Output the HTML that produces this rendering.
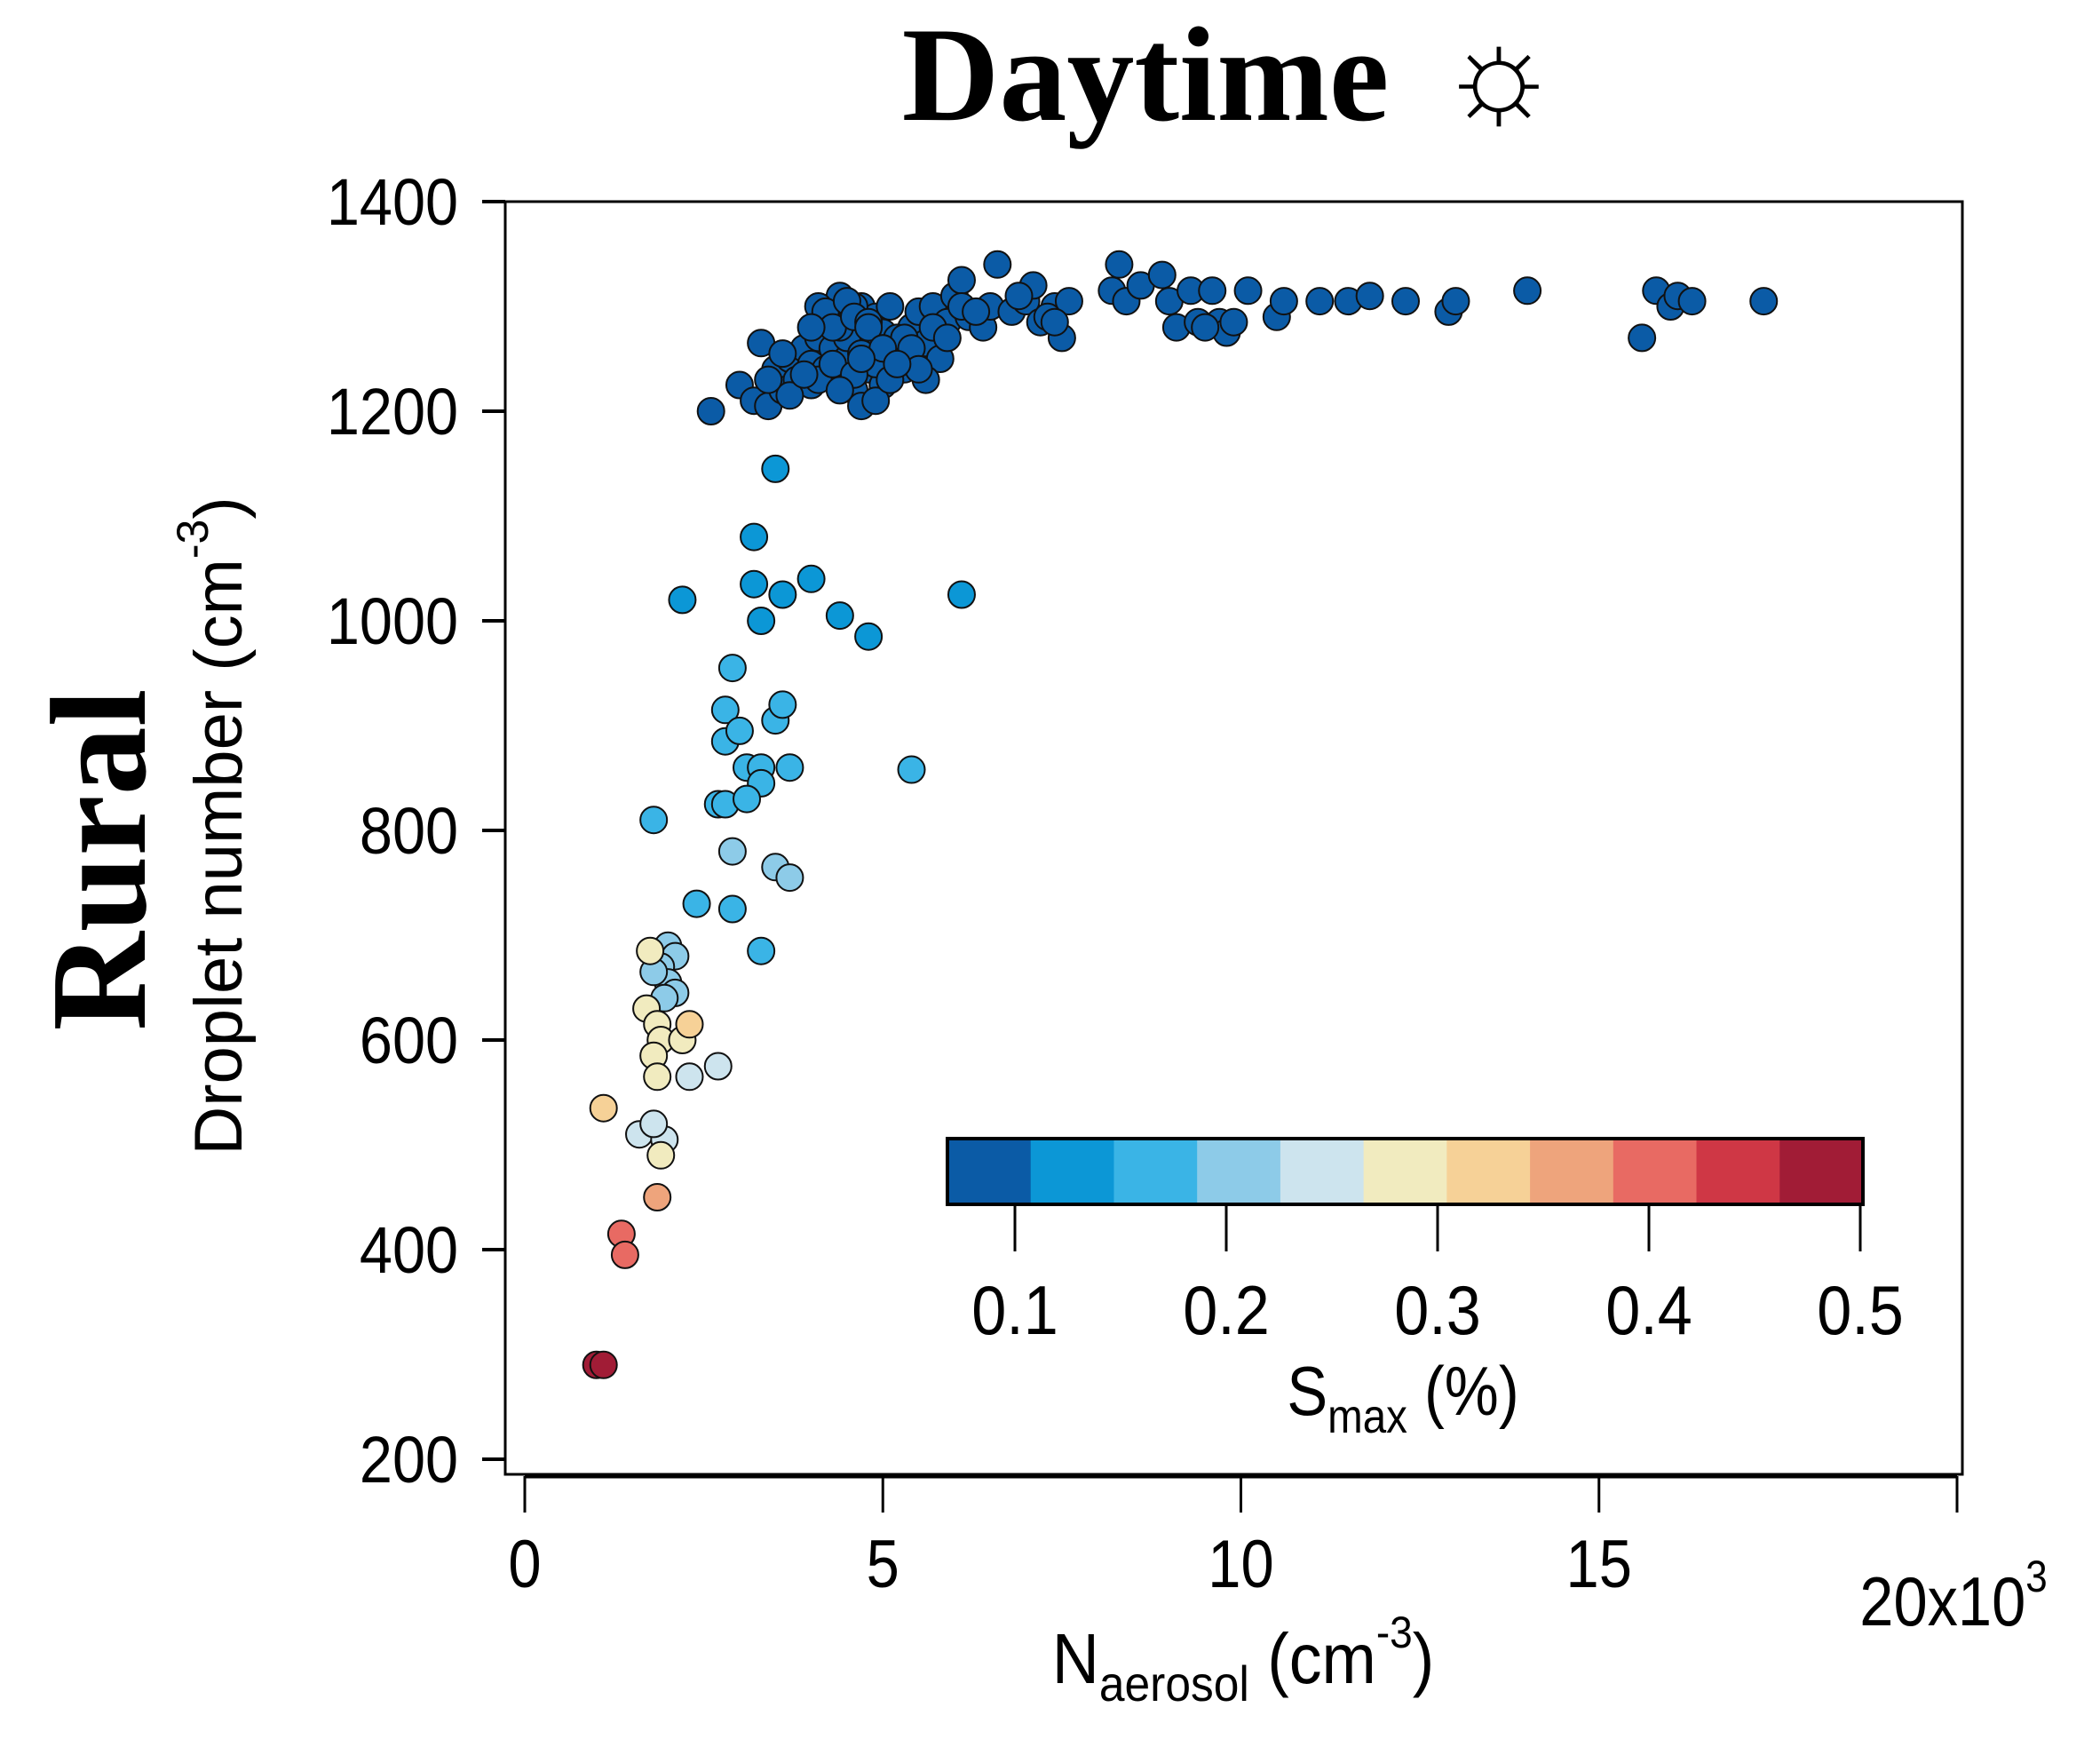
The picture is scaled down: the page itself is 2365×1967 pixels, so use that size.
<!DOCTYPE html>
<html><head><meta charset="utf-8"><style>
html,body{margin:0;padding:0;background:#fff}
svg{display:block}
text{font-family:"Liberation Sans",sans-serif;fill:#000}
.serif{font-family:"Liberation Serif",serif;font-weight:bold}
</style></head><body>
<svg id="chart" width="2365" height="1967" viewBox="0 0 2365 1967">
<text class="serif" x="1290" y="135" font-size="152" text-anchor="middle">Daytime</text>
<text x="1688" y="132" font-size="150" font-weight="bold" text-anchor="middle" font-family="DejaVu Sans">☼</text>
<text class="serif" transform="translate(163,968) rotate(-90)" font-size="154" text-anchor="middle">Rural</text>
<text transform="translate(272,930) rotate(-90)" font-size="76" text-anchor="middle">Droplet number (cm<tspan dy="-38" font-size="50">-3</tspan><tspan dy="38">)</tspan></text>
<rect x="569" y="227" width="1641" height="1433" fill="none" stroke="#000" stroke-width="3"/>
<g id="yaxis"></g>
<g id="xaxis"></g>
<g id="points"></g>
<g id="cbar"></g>
<text transform="translate(1400,1895) scale(0.92,1)" font-size="80" text-anchor="middle">N<tspan dy="20" font-size="56">aerosol</tspan><tspan dy="-20"> (cm</tspan><tspan dy="-40" font-size="50">-3</tspan><tspan dy="40">)</tspan></text>
<text transform="translate(2200,1830) scale(0.88,1)" font-size="78" text-anchor="middle">20x10<tspan dy="-38" font-size="50">3</tspan></text>
<text transform="translate(1580,1593) scale(0.88,1)" font-size="78" text-anchor="middle">S<tspan dy="20" font-size="54">max</tspan><tspan dy="-20"> (%)</tspan></text>
</svg>
<script>
const yTicks=[200,400,600,800,1000,1200,1400];
const xTicks=[0,5,10,15];
const cbTicks=[0.1,0.2,0.3,0.4,0.5];
const cbColors=["#0b5ba6","#0c97d6","#3ab4e6","#8dcbe8","#cde4ee","#f1ebbf","#f6d197","#eea47c","#e86a63","#cf3745","#a11c36"];
const ptX=[3.3,3.0,3.2,3.4,3.5,3.6,3.7,3.8,3.9,4.0,4.1,4.2,4.3,4.4,4.5,4.3,4.4,4.5,4.6,4.6,4.7,4.7,4.8,4.8,4.9,5.0,5.0,5.1,5.2,5.3,5.4,5.5,5.6,5.7,5.8,5.9,6.0,6.1,6.2,6.4,6.5,6.6,6.8,7.0,7.1,7.2,7.4,7.5,7.6,8.2,8.3,8.4,8.6,8.9,9.0,9.1,9.3,9.4,9.6,9.7,9.8,10.1,10.5,10.6,11.1,11.5,11.8,12.3,12.9,13.0,14.0,15.6,15.8,16.0,16.1,16.3,17.3,2.6,4.2,4.6,4.9,5.6,4.0,3.7,4.5,4.4,5.2,4.1,
4.2,4.3,4.5,4.6,4.7,4.8,4.9,5.0,5.1,5.3,5.4,5.5,5.7,5.9,6.1,6.3,4.1,4.3,4.6,4.8,5.0,5.2,4.4,4.7,3.9,3.6,3.4,4.0,6.9,7.3,7.4,9.5,9.9,
3.5,3.2,2.2,6.1,4.0,3.6,3.2,3.3,4.4,4.8,5.4,2.9,2.8,2.8,3.0,3.1,3.3,3.5,3.6,3.7,3.3,2.7,2.8,3.1,1.8,2.4,2.9,3.3,
2.9,3.5,3.7,2.0,2.1,1.9,2.0,2.1,1.8,1.95,
2.7,2.3,1.6,1.95,1.8,
1.75,1.7,1.85,1.9,1.8,1.85,2.2,1.9,
1.1,2.3,1.85,1.35,1.4,1.0,1.1];
const ptY=[1265,1225,1210,1205,1240,1220,1250,1230,1260,1245,1270,1285,1300,1310,1290,1260,1235,1250,1275,1220,1300,1205,1265,1240,1290,1225,1275,1300,1255,1240,1280,1295,1265,1300,1250,1285,1310,1325,1290,1280,1300,1340,1295,1305,1320,1285,1300,1270,1305,1315,1340,1305,1320,1330,1305,1280,1315,1285,1315,1285,1275,1315,1290,1305,1305,1305,1310,1305,1295,1305,1315,1270,1315,1300,1310,1305,1305,1200,1240,1300,1210,1230,1225,1215,1270,1280,1270,1300,
1295,1280,1305,1290,1255,1285,1245,1260,1230,1270,1260,1240,1280,1270,1300,1295,1230,1245,1235,1280,1260,1245,1220,1250,1235,1255,1230,1280,1310,1290,1285,1280,1285,
1145,1080,1020,1025,1040,1025,1035,1000,1005,985,858,955,915,885,895,860,860,905,920,860,845,825,825,830,810,730,725,685,
780,765,755,690,680,670,655,645,665,640,
575,565,510,505,520,
685,630,615,600,585,565,600,490,
535,615,450,415,395,290,290];
const ptS=[0.08,0.08,0.08,0.08,0.08,0.08,0.08,0.08,0.08,0.08,0.08,0.08,0.08,0.08,0.08,0.08,0.08,0.08,0.08,0.08,0.08,0.08,0.08,0.08,0.08,0.08,0.08,0.08,0.08,0.08,0.08,0.08,0.08,0.08,0.08,0.08,0.08,0.08,0.08,0.08,0.08,0.08,0.08,0.08,0.08,0.08,0.08,0.08,0.08,0.08,0.08,0.08,0.08,0.08,0.08,0.08,0.08,0.08,0.08,0.08,0.08,0.08,0.08,0.08,0.08,0.08,0.08,0.08,0.08,0.08,0.08,0.08,0.08,0.08,0.08,0.08,0.08,0.08,0.08,0.08,0.08,0.08,0.08,0.08,0.08,0.08,0.08,0.08,
0.08,0.08,0.08,0.08,0.08,0.08,0.08,0.08,0.08,0.08,0.08,0.08,0.08,0.08,0.08,0.08,0.08,0.08,0.08,0.08,0.08,0.08,0.08,0.08,0.08,0.08,0.08,0.08,0.08,0.08,0.08,0.08,0.08,
0.12,0.13,0.12,0.12,0.12,0.13,0.13,0.13,0.13,0.13,0.15,0.15,0.15,0.15,0.15,0.15,0.15,0.15,0.15,0.15,0.15,0.15,0.15,0.15,0.15,0.15,0.15,0.15,
0.2,0.2,0.2,0.2,0.2,0.2,0.2,0.2,0.2,0.2,
0.25,0.25,0.25,0.25,0.25,
0.29,0.29,0.29,0.29,0.29,0.29,0.29,0.29,
0.33,0.33,0.37,0.42,0.42,0.49,0.49];
const NS="http://www.w3.org/2000/svg";
function xs(v){return 591+v*(2204-591)/20;}
function ys(v){return 227+(1400-v)*(1643-227)/1200;}
function cs(v){return 1143+(v-0.1)*(2095-1143)/0.4;}
function mk(tag,parent,attrs){const e=document.createElementNS(NS,tag);for(const k in attrs)e.setAttribute(k,attrs[k]);parent.appendChild(e);return e;}
const ya=document.getElementById('yaxis');
yTicks.forEach(v=>{
 const t=mk('line',ya,{x1:543,x2:569,y1:ys(v),y2:ys(v),stroke:'#000','stroke-width':4});
 
 
 const l=mk('text',ya,{transform:`translate(516,${ys(v)+26}) scale(0.9,1)`,'font-size':74,'text-anchor':'end'});
 l.textContent=v;
 
 
});
const xa=document.getElementById('xaxis');
const xl=mk('line',xa,{x1:591,x2:2204,y1:1662,y2:1662,stroke:'#000','stroke-width':5});


xTicks.concat([20]).forEach(v=>{
 const t=mk('line',xa,{x1:xs(v),x2:xs(v),y1:1662,y2:1703,stroke:'#000','stroke-width':3});
 
 
});
xTicks.forEach(v=>{
 const l=mk('text',xa,{transform:`translate(${xs(v)},${1787}) scale(0.88,1)`,'font-size':76,'text-anchor':'middle'});
 l.textContent=v;
 
 
});
const cb=document.getElementById('cbar');
const lo=0.1-(1143-1067)/((2095-1143)/0.4);
const bw=(0.5+(2098-2095)/((2095-1143)/0.4)-lo)/cbColors.length;
function colorFor(s){let i=Math.floor((s-lo)/bw);if(i<0)i=0;if(i>=cbColors.length)i=cbColors.length-1;return cbColors[i];}
const pg=document.getElementById('points');
ptX.forEach((x,i)=>{
 const c=mk('circle',pg,{cx:xs(x),cy:ys(ptY[i]),r:15,fill:colorFor(ptS[i]),stroke:'#111','stroke-width':2});
 
 
});
cbColors.forEach((col,i)=>{
 const x0=cs(lo+i*bw),x1=cs(lo+(i+1)*bw);
 const r=mk('rect',cb,{x:x0,y:1282,width:x1-x0+0.5,height:74,fill:col});
 
 
});
const fr=mk('rect',cb,{x:1067,y:1282,width:2098-1067,height:74,fill:'none',stroke:'#000','stroke-width':4});


cbTicks.forEach(v=>{
 const t=mk('line',cb,{x1:cs(v),x2:cs(v),y1:1356,y2:1409,stroke:'#000','stroke-width':3});
 
 
 const l=mk('text',cb,{transform:`translate(${cs(v)},1502) scale(0.9,1)`,'font-size':78,'text-anchor':'middle'});
 l.textContent=v.toFixed(1);
 
 
});
</script>
</body></html>
